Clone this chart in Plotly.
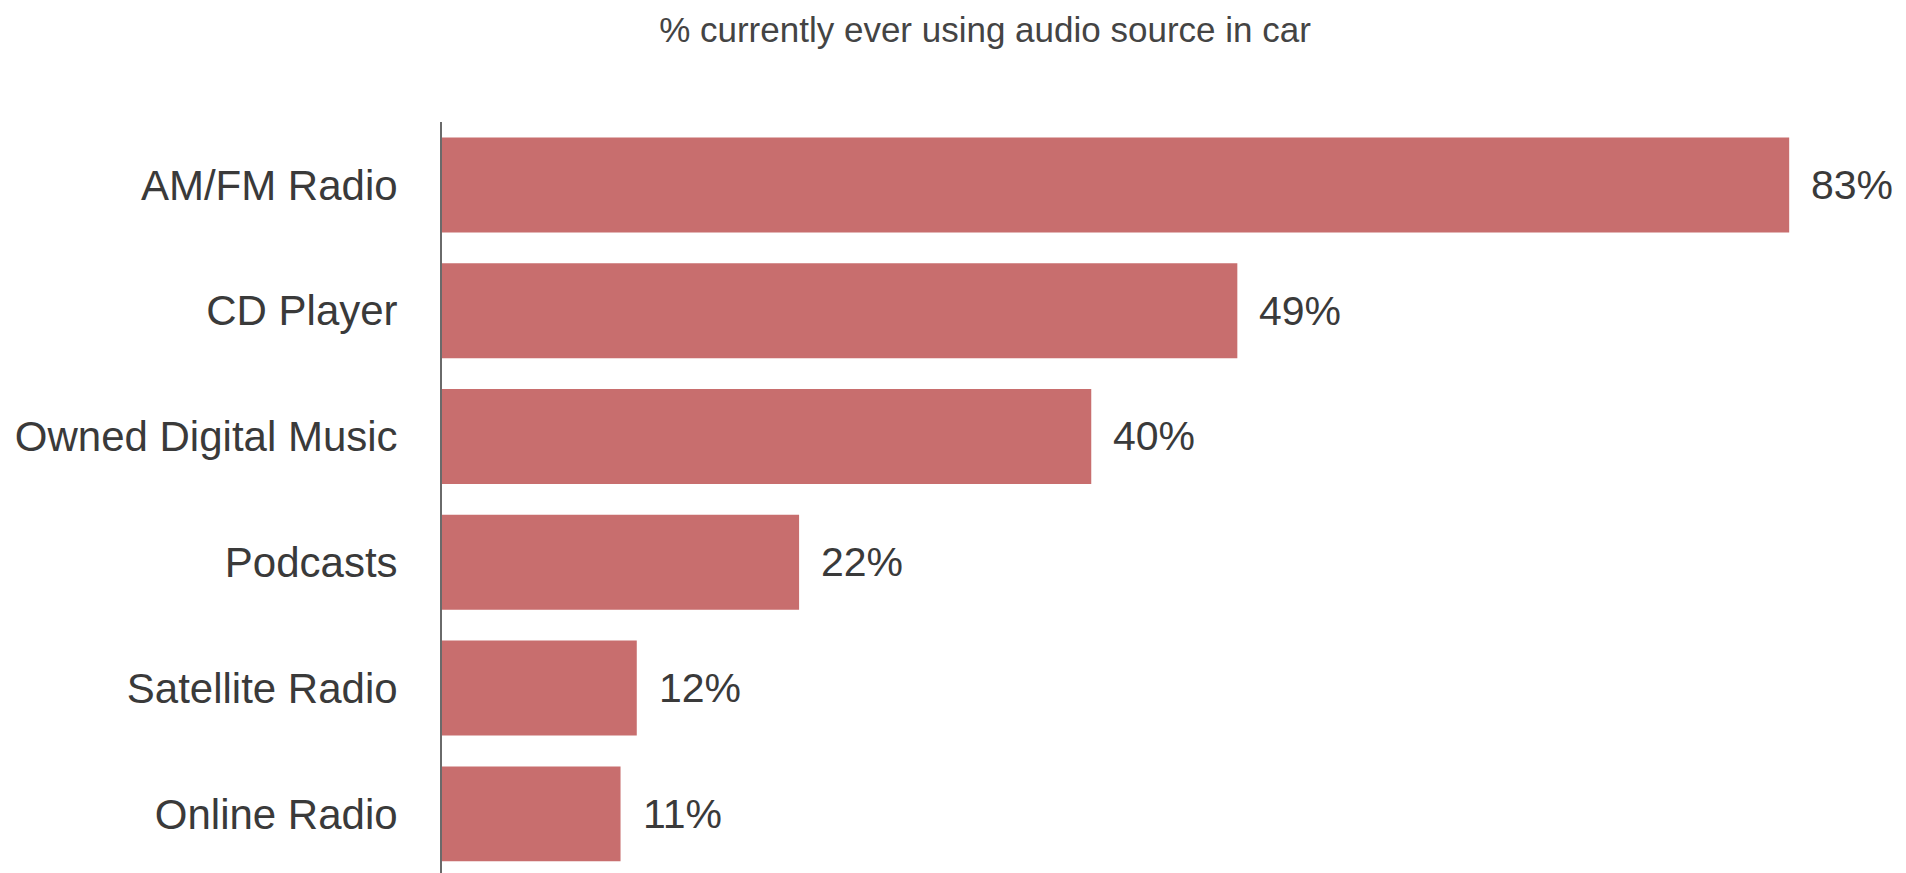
import plotly.graph_objects as go

# Audio sources used in the car, share of respondents (%)
sources = ["AM/FM Radio", "CD Player", "Owned Digital Music", "Podcasts",
           "Satellite Radio", "Online Radio"]
shares = [83, 49, 40, 22, 12, 11]
value_labels = ["83%", "49%", "40%", "22%", "12%", "11%"]

title_text = "% currently ever using audio source in car"

BAR_COLOR = "#C86E6E"
TEXT_COLOR = "#3a3a3a"
FONT = "Liberation Sans, Arial, Helvetica, sans-serif"

fig = go.Figure(
    go.Bar(
        x=shares,
        y=sources,
        orientation="h",
        marker=dict(color=BAR_COLOR, line=dict(width=0)),
        hoverinfo="skip",
    )
)

# Value labels placed just right of each bar end
for src, val, lab in zip(sources, shares, value_labels):
    fig.add_annotation(
        x=val, y=src, text=lab, showarrow=False,
        xanchor="left", yanchor="middle", xshift=20,
        font=dict(family=FONT, size=41, color=TEXT_COLOR),
    )

fig.update_layout(
    width=1906,
    height=873,
    margin=dict(l=442, r=60, t=122, b=0, pad=0),
    paper_bgcolor="white",
    plot_bgcolor="white",
    bargap=0.245,
    showlegend=False,
    title=dict(
        text=title_text,
        x=985 / 1906, xref="container", xanchor="center",
        y=1 - 30 / 873, yref="container", yanchor="middle",
        font=dict(family=FONT, size=35, color="#444444"),
    ),
    xaxis=dict(
        range=[0, 86.5],
        visible=False,
        showgrid=False,
        zeroline=False,
    ),
    yaxis=dict(
        type="category",
        categoryorder="array",
        categoryarray=sources,
        range=[5.47, -0.5],
        showgrid=False,
        zeroline=False,
        showline=True,
        linecolor="#6a6a6a",
        linewidth=2,
        ticks="",
        ticklabelstandoff=34,
        tickfont=dict(family=FONT, size=42, color=TEXT_COLOR),
    ),
)

fig.write_html("out.html")
